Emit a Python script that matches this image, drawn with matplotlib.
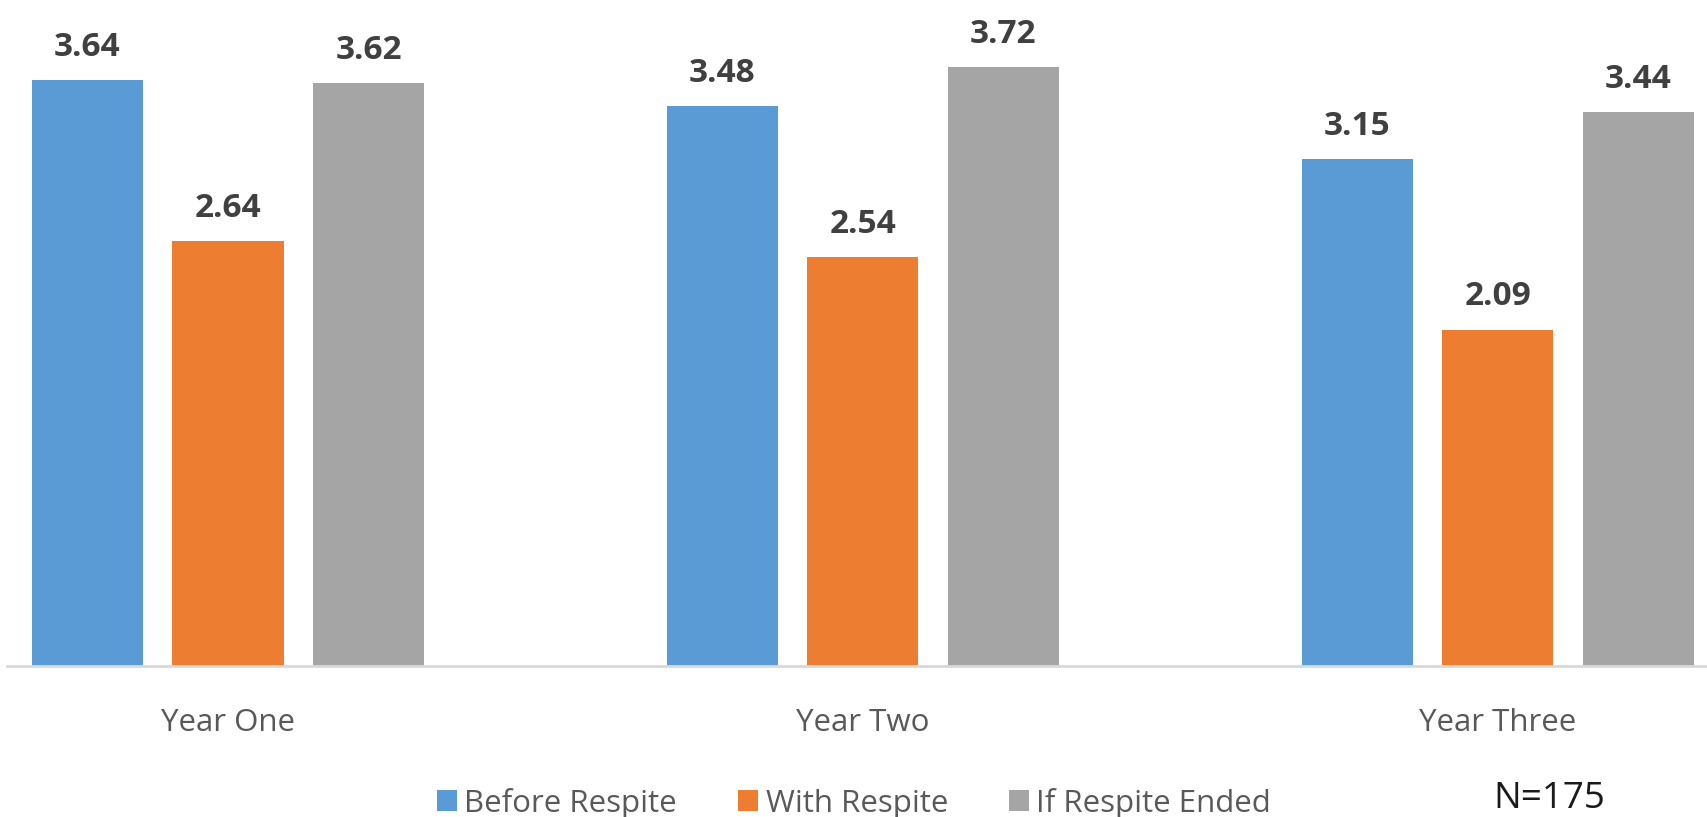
import numpy as np
import matplotlib.pyplot as plt
from matplotlib.patches import Patch

plt.rcParams['font.family'] = ['Open Sans', 'DejaVu Sans']

# Datos
years = ['Year One', 'Year Two', 'Year Three']
series = ['Before Respite', 'With Respite', 'If Respite Ended']
before = [3.64, 3.48, 3.15]
with_respite = [2.64, 2.54, 2.09]
if_ended = [3.62, 3.72, 3.44]

colors = ['#5B9BD5', '#ED7D31', '#A5A5A5']
values = [before, with_respite, if_ended]

W, H = 1708, 817
fig = plt.figure(figsize=(W / 100, H / 100), dpi=100)
ax = fig.add_axes([7 / W, (H - 666) / H, 1 - 7 / W, 666 / H])

x = np.arange(len(years))
step = 0.2213
width = 0.175

for i, (vals, col) in enumerate(zip(values, colors)):
    pos = x + (i - 1) * step
    ax.bar(pos, vals, width=width, color=col, zorder=2)
    for px, v in zip(pos, vals):
        ax.annotate(f'{v:.2f}', (px, v), xytext=(0, 17.3), textcoords='offset points',
                    ha='center', va='baseline', fontsize=24, fontweight='bold',
                    color='#404040')

ax.set_xlim(-0.348, 2.331)
ax.set_ylim(0, 666 / 161)

# Ejes
for s in ['top', 'right', 'left']:
    ax.spines[s].set_visible(False)
ax.spines['bottom'].set_color('#D9D9D9')
ax.spines['bottom'].set_linewidth(2)
ax.set_yticks([])
ax.set_xticks(x)
ax.set_xticklabels(years, fontsize=22.5, color='#595959')
ax.tick_params(axis='x', length=0, pad=30)

# Leyenda
handles = [Patch(facecolor=c, edgecolor='none') for c in colors]
fig.legend(handles, series, loc='center left', bbox_to_anchor=(437 / W, 0.017),
           ncol=3, frameon=False, fontsize=22.5, labelcolor='#595959',
           handlelength=0.65, handleheight=0.65, handletextpad=0.23,
           columnspacing=1.95, borderpad=0, borderaxespad=0)

fig.text(1493 / W, 9 / H, 'N=175', fontsize=26.5, color='#1a1a1a',
         ha='left', va='baseline')

fig.savefig('out.png', dpi=100)
